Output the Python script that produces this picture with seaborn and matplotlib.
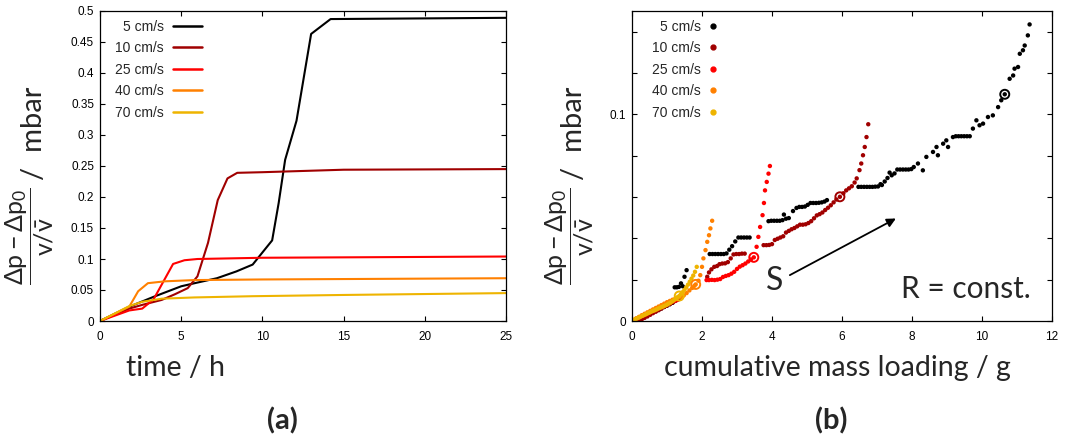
import matplotlib
matplotlib.use("Agg")
import matplotlib.pyplot as plt
import numpy as np
import pandas as pd
import seaborn as sns
from matplotlib.lines import Line2D
from matplotlib.ticker import MultipleLocator, FixedLocator

# ---------------- data ----------------
labels = ["5 cm/s", "10 cm/s", "25 cm/s", "40 cm/s", "70 cm/s"]
colors = ["#000000", "#a00000", "#ff0000", "#ff8000", "#eeb400"]

# panel (a): pressure vs time
t5 = [0, 1.8, 3.3, 5.0, 6.0, 7.2, 8.4, 9.4, 10.6, 11.0, 11.4, 12.1, 13.0, 14.2, 25]
p5 = [0, 0.023, 0.039, 0.056, 0.062, 0.069, 0.080, 0.091, 0.130, 0.190, 0.260, 0.323, 0.463, 0.487, 0.489]
t10 = [0, 1.8, 2.6, 3.8, 4.6, 5.4, 6.0, 6.65, 7.25, 7.85, 8.45, 10, 15, 25]
p10 = [0, 0.020, 0.026, 0.034, 0.043, 0.053, 0.072, 0.126, 0.195, 0.230, 0.239, 0.240, 0.244, 0.245]
t25 = [0, 1.8, 2.6, 3.3, 4.5, 5.2, 6.0, 10, 25]
p25 = [0, 0.017, 0.020, 0.035, 0.092, 0.098, 0.100, 0.102, 0.104]
t40 = [0, 1.8, 2.35, 2.95, 4.0, 5.8, 10, 25]
p40 = [0, 0.023, 0.048, 0.061, 0.064, 0.066, 0.067, 0.069]
t70 = [0, 1.8, 2.6, 3.8, 5.8, 9.4, 15, 25]
p70 = [0, 0.024, 0.031, 0.036, 0.038, 0.040, 0.042, 0.045]

# panel (b): pressure vs cumulative mass loading
m5 = [0.05, 0.12, 0.2, 0.28, 0.36, 0.44, 0.52, 0.6, 0.68, 0.76, 0.84, 0.92, 1.0, 1.08, 1.16,
      1.22, 1.28, 1.34, 1.4, 1.45, 1.5, 1.56,
      2.22, 2.3, 2.38, 2.46, 2.54, 2.62, 2.7, 2.78, 2.86, 2.95, 3.04, 3.12, 3.2, 3.28, 3.36,
      3.9, 3.98, 4.06, 4.14, 4.22, 4.3, 4.34, 4.4, 4.48, 4.6, 4.7, 4.78, 4.86, 4.94, 5.02, 5.1,
      5.18, 5.26, 5.34, 5.42, 5.5, 5.57,
      6.47, 6.55, 6.63, 6.71, 6.79, 6.87, 6.95, 7.03,
      7.1, 7.14, 7.22, 7.3, 7.36, 7.42, 7.5,
      7.58, 7.66, 7.74, 7.82, 7.9, 7.98, 8.05,
      8.17, 8.31, 8.41, 8.6, 8.7, 8.74, 8.89, 8.98, 9.03,
      9.17, 9.25, 9.33, 9.41, 9.49, 9.57, 9.65,
      9.74, 9.84, 9.93, 10.03, 10.17, 10.31, 10.46, 10.55, 10.65,
      10.79, 10.89, 10.93, 11.03, 11.08, 11.17, 11.22, 11.31, 11.36]
r5 = [0.0004, 0.001, 0.0016, 0.0022, 0.0028, 0.0033, 0.0038, 0.0043, 0.0048, 0.0054, 0.0061, 0.0068, 0.0074, 0.0081, 0.0088,
      0.0163, 0.0163, 0.0165, 0.0182, 0.0168, 0.0214, 0.0246,
      0.0324, 0.0324, 0.0324, 0.0324, 0.0324, 0.0324, 0.0327, 0.0345, 0.0362, 0.0385, 0.0404, 0.0404, 0.0404, 0.0404, 0.0404,
      0.0483, 0.0485, 0.0485, 0.0485, 0.0485, 0.0488, 0.0515, 0.0495, 0.0498, 0.0532, 0.0547, 0.0552, 0.0552, 0.0554, 0.0562, 0.0571,
      0.0571, 0.0571, 0.0572, 0.0574, 0.0578, 0.0585,
      0.0649, 0.0649, 0.0649, 0.0649, 0.0649, 0.0649, 0.065, 0.0651,
      0.0662, 0.0658, 0.0675, 0.0692, 0.0718, 0.0705, 0.0714,
      0.0733, 0.0733, 0.0733, 0.0733, 0.0733, 0.0735, 0.0745,
      0.0762, 0.0729, 0.0794, 0.0818, 0.0842, 0.0802, 0.0858, 0.0874, 0.0842,
      0.089, 0.0894, 0.0894, 0.0894, 0.0894, 0.0894, 0.0894,
      0.0931, 0.0971, 0.0947, 0.0955, 0.0987, 0.0995, 0.1035, 0.1068, 0.1097,
      0.1172, 0.1188, 0.1221, 0.1229, 0.1293, 0.131, 0.1333, 0.1382, 0.1435]
m10 = [0.2, 0.28, 0.36, 0.44, 0.52, 0.6, 0.68, 0.76, 0.84, 0.92, 1.0, 1.08, 1.16, 1.24, 1.32, 1.4,
       2.15, 2.2, 2.27, 2.35, 2.43, 2.5, 2.58, 2.66, 2.74, 2.82, 2.9, 2.98, 3.06, 3.14, 3.22,
       3.76, 3.84, 3.92, 4.0, 4.08, 4.16, 4.24, 4.32, 4.4, 4.48, 4.56, 4.64, 4.72, 4.8, 4.88, 4.96,
       5.04, 5.12, 5.2, 5.28, 5.36, 5.44, 5.52, 5.6, 5.68, 5.76, 5.84,
       5.94, 6.04, 6.12, 6.2, 6.28, 6.36, 6.42, 6.5, 6.55, 6.6, 6.65, 6.7, 6.75]
r10 = [0.0, 0.0008, 0.0015, 0.0022, 0.003, 0.0038, 0.0045, 0.0052, 0.006, 0.0068, 0.0075, 0.0082, 0.009, 0.0097, 0.0104, 0.011,
       0.0214, 0.0235, 0.025, 0.0262, 0.0266, 0.0275, 0.0278, 0.0279, 0.0285, 0.0303, 0.0322, 0.0324, 0.0324, 0.0326, 0.0326,
       0.0367, 0.0367, 0.0368, 0.0372, 0.0392, 0.0398, 0.0404, 0.041, 0.0428, 0.0436, 0.0444, 0.045, 0.0458, 0.0466, 0.0466, 0.0468,
       0.0474, 0.0483, 0.0497, 0.0511, 0.0517, 0.0525, 0.0537, 0.0548, 0.056, 0.0574, 0.0588,
       0.0601, 0.0618, 0.0632, 0.0642, 0.0652, 0.067, 0.069, 0.073, 0.0762, 0.0802, 0.0842, 0.089, 0.0952]
m25 = [0.1, 0.2, 0.3, 0.4, 0.5, 0.6, 0.7, 0.8, 0.9, 1.0, 1.1, 1.2, 1.28,
       2.13, 2.2, 2.28, 2.36, 2.44, 2.52, 2.6, 2.68, 2.76, 2.84, 2.92, 3.0, 3.08, 3.16, 3.24, 3.32, 3.4, 3.48,
       3.56, 3.61, 3.66, 3.73, 3.77, 3.8, 3.85, 3.9, 3.94]
r25 = [0.0008, 0.0016, 0.0024, 0.0032, 0.004, 0.0048, 0.0056, 0.0064, 0.0072, 0.008, 0.0088, 0.0096, 0.0101,
       0.0198, 0.0198, 0.0199, 0.0198, 0.02, 0.0203, 0.0213, 0.0218, 0.0222, 0.0229, 0.0238, 0.0252, 0.0263, 0.027,
       0.0278, 0.0288, 0.0298, 0.0308,
       0.0359, 0.0407, 0.0455, 0.0512, 0.0571, 0.0632, 0.0673, 0.0713, 0.075]
m40 = [0.05, 0.12, 0.2, 0.28, 0.36, 0.44, 0.52, 0.6, 0.68, 0.76, 0.84, 0.92, 1.0, 1.08, 1.16, 1.24, 1.32, 1.4,
       1.48, 1.56, 1.64, 1.72,
       1.78, 1.82, 1.9, 1.95, 2.0, 2.04, 2.1, 2.15, 2.2, 2.24, 2.29]
r40 = [0.0006, 0.0013, 0.002, 0.0028, 0.0035, 0.0042, 0.0049, 0.0056, 0.0063, 0.007, 0.0077, 0.0084, 0.0091, 0.0097,
       0.0103, 0.0109, 0.0114, 0.0117, 0.0124, 0.0135, 0.0148, 0.016,
       0.017, 0.0177, 0.0195, 0.0222, 0.0262, 0.0303, 0.0343, 0.0383, 0.0415, 0.0448, 0.0485]
m70 = [0.0, 0.05, 0.1, 0.15, 0.2, 0.25, 0.3, 0.35, 0.4, 0.45, 0.5, 0.55, 0.6, 0.65, 0.7, 0.75, 0.8, 0.85, 0.9,
       0.95, 1.0, 1.05, 1.1, 1.15, 1.2, 1.25, 1.3, 1.35, 1.4, 1.45, 1.5, 1.55, 1.6, 1.65, 1.7, 1.75, 1.8, 1.85]
r70 = [0.0, 0.0004, 0.0009, 0.0013, 0.0017, 0.0021, 0.0025, 0.0029, 0.0033, 0.0037, 0.0041, 0.0045, 0.0049, 0.0052,
       0.0056, 0.006, 0.0064, 0.0067, 0.0071, 0.0075, 0.0079, 0.0084, 0.0089, 0.0095, 0.0101, 0.0108, 0.0115, 0.0121,
       0.013, 0.014, 0.0151, 0.0163, 0.0176, 0.019, 0.0205, 0.022, 0.0238, 0.0262]

# highlighted points (open circles)
hl_m = [10.65, 5.94, 3.48, 1.82, 1.35]
hl_r = [0.1097, 0.0601, 0.0308, 0.0177, 0.0121]

# ---------------- styling ----------------
sns.set_style("ticks")
plt.rcParams["font.family"] = ["Liberation Sans", "DejaVu Sans"]
plt.rcParams["mathtext.fontset"] = "custom"
plt.rcParams["mathtext.rm"] = "Lato"
plt.rcParams["mathtext.it"] = "Lato"
plt.rcParams["mathtext.sf"] = "Lato"
plt.rcParams["mathtext.bf"] = "Lato:bold"
plt.rcParams["axes.linewidth"] = 0.9
plt.rcParams["axes.edgecolor"] = "black"

pal = dict(zip(labels, colors))

df_a = pd.concat([
    pd.DataFrame({"t": t, "p": p, "speed": lab})
    for t, p, lab in zip([t5, t10, t25, t40, t70], [p5, p10, p25, p40, p70], labels)
], ignore_index=True)
df_b = pd.concat([
    pd.DataFrame({"m": m, "r": r, "speed": lab})
    for m, r, lab in zip([m5, m10, m25, m40, m70], [r5, r10, r25, r40, r70], labels)
], ignore_index=True)

W, H = 1071, 437
fig = plt.figure(figsize=(W / 100, H / 100), dpi=100)
ax1 = fig.add_axes([100 / W, 1 - 321 / H, 406 / W, 310 / H])
ax2 = fig.add_axes([632 / W, 1 - 321 / H, 420 / W, 310 / H])

# ---- panel (a)
sns.lineplot(data=df_a, x="t", y="p", hue="speed", hue_order=labels, palette=pal,
             estimator=None, sort=False, linewidth=1.5, legend=False, ax=ax1)
ax1.set_xlim(0, 25)
ax1.set_ylim(0, 0.5)
ax1.xaxis.set_major_locator(MultipleLocator(5))
ax1.yaxis.set_major_locator(MultipleLocator(0.05))
ax1.set_yticklabels(["0" if abs(v) < 1e-9 else f"{v:g}" for v in ax1.get_yticks()])

handles_a = [Line2D([], [], color=c, lw=1.8) for c in colors]
ax1.legend(handles_a, labels, loc="upper right", bbox_to_anchor=(0.251, 0.972),
           frameon=False, markerfirst=False, fontsize=10, handlelength=2.1,
           handletextpad=0.65, labelspacing=0.54, borderpad=0, borderaxespad=0)

# ---- panel (b)
sns.scatterplot(data=df_b, x="m", y="r", hue="speed", hue_order=labels, palette=pal,
                s=10, linewidth=0, legend=False, ax=ax2)
ax2.scatter(hl_m, hl_r, s=42, facecolors="none", edgecolors=colors, linewidths=1.4, zorder=5)
ax2.set_xlim(0, 12)
ax2.set_ylim(0, 0.15)
ax2.xaxis.set_major_locator(MultipleLocator(2))
ax2.yaxis.set_major_locator(FixedLocator([0, 0.1]))
ax2.yaxis.set_minor_locator(MultipleLocator(0.02))
ax2.set_yticklabels(["0", "0.1"])

handles_b = [Line2D([], [], color=c, marker="o", ls="", markersize=3.5) for c in colors]
ax2.legend(handles_b, labels, loc="upper right", bbox_to_anchor=(0.208, 0.972),
           frameon=False, markerfirst=False, fontsize=10, handlelength=0.9,
           handletextpad=0.45, labelspacing=0.54, borderpad=0, borderaxespad=0)

ax2.annotate("", xy=(7.54, 0.0496), xytext=(4.51, 0.0222),
             arrowprops=dict(arrowstyle="-|>", color="black", lw=1.3, mutation_scale=13,
                             shrinkA=0, shrinkB=0))
ax2.text(4.08, 0.015, "S", fontsize=23, family="Lato", ha="center", va="baseline")
ax2.text(11.4, 0.011, "R = const.", fontsize=21.5, family="Lato", ha="right", va="baseline")

for ax in (ax1, ax2):
    ax.set_xlabel("")
    ax.set_ylabel("")
    ax.tick_params(which="both", direction="in", top=True, right=True, length=3.6,
                   width=0.8, labelsize=8.5, colors="black")
    ax.tick_params(axis="x", pad=7)
    ax.tick_params(axis="y", pad=4.3)
    for s in ax.spines.values():
        s.set_visible(True)
        s.set_color("black")
    for lab in ax.get_xticklabels() + ax.get_yticklabels():
        lab.set_family("Liberation Sans")

# y-axis labels: fraction + unit
frac = r"$\dfrac{\Delta p-\Delta p_0}{v/\bar{v}}$"
unit = "/  mbar"
for x0 in (0, 540):
    fig.text((x0 + 30) / W, 1 - 236 / H, frac, rotation=90, ha="center", va="center",
             fontsize=18, family="Lato")
    fig.text((x0 + 34) / W, 1 - 133 / H, unit, rotation=90, ha="center", va="center",
             fontsize=21, family="Lato")

fig.text(176 / W, 1 - 368 / H, "time / h", ha="center", va="center", fontsize=20.5, family="Lato")
fig.text(837 / W, 1 - 368 / H, "cumulative mass loading / g", ha="center", va="center", fontsize=20.5, family="Lato")
fig.text(282 / W, 1 - 421 / H, "(a)", ha="center", va="center", fontsize=21, family="Lato", weight="bold")
fig.text(831 / W, 1 - 421 / H, "(b)", ha="center", va="center", fontsize=21, family="Lato", weight="bold")

fig.savefig("out.png", dpi=100)
